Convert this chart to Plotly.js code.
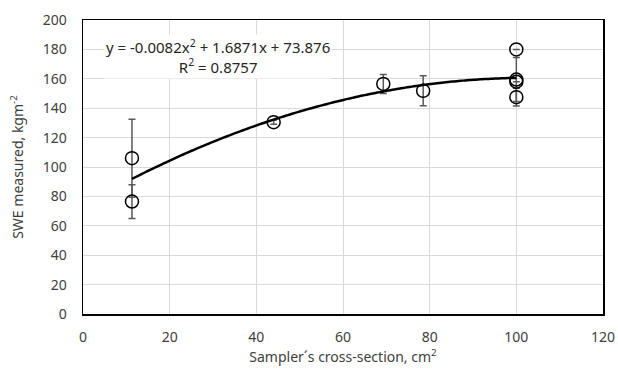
<!DOCTYPE html>
<html>
<head>
<meta charset="utf-8">
<script src="https://cdn.plot.ly/plotly-3.0.1.min.js"></script>
<style>html,body{margin:0;padding:0;background:#fff;}#chart{width:618px;height:373px;}</style>
</head>
<body>
<div id="chart"></div>
<script>
// Data
const crossSection = [11.3, 11.3, 44.0, 69.3, 78.5, 100, 100, 100, 100];
const sweMeasured  = [106, 76.5, 130.5, 156.5, 151.8, 180, 159.5, 158, 147.5];
const sweError     = [26.5, 11.5, 1.5, 6.5, 10.2, 0, 15, 0, 6];
// Excel polynomial trendline coefficients shown on the chart: y = a x^2 + b x + c
const trendCoef = [-0.0082, 1.6871, 73.876];
const trendRange = [11.3, 100];
const xTicks = [0, 20, 40, 60, 80, 100, 120];
const yTicks = [0, 20, 40, 60, 80, 100, 120, 140, 160, 180, 200];

const trendX = [], trendY = [];
for (let i = 0; i <= 90; i++) {
  const x = trendRange[0] + (trendRange[1] - trendRange[0]) * i / 90;
  trendX.push(x);
  trendY.push(trendCoef[0] * x * x + trendCoef[1] * x + trendCoef[2]);
}

const font = "Noto Sans, Liberation Sans, sans-serif";

const traces = [
  {
    x: crossSection, y: sweMeasured, type: 'scatter', mode: 'markers',
    marker: {symbol: 'circle-open', size: 13, color: '#000', line: {width: 1.5, color: '#000'}},
    error_y: {type: 'data', array: sweError, visible: true, color: '#595959', thickness: 1.5, width: 3.5},
    hoverinfo: 'skip'
  },
  {
    x: trendX, y: trendY, type: 'scatter', mode: 'lines',
    line: {color: '#000', width: 2.5, shape: 'spline'}, hoverinfo: 'skip'
  }
];

const layout = {
  width: 618, height: 373,
  margin: {l: 83, r: 15, t: 20, b: 59},
  paper_bgcolor: '#fff', plot_bgcolor: '#fff',
  showlegend: false,
  font: {family: font, size: 14, color: '#404040'},
  xaxis: {
    range: [0, 120], tickvals: xTicks, ticktext: xTicks.map(String),
    showgrid: true, gridcolor: '#d9d9d9', gridwidth: 1,
    zeroline: false, showline: true, linecolor: '#000', linewidth: 1.5, mirror: true,
    ticks: '', ticklabelstandoff: 10, tickfont: {family: font, size: 14, color: '#404040'},
    title: {text: 'Sampler´s cross-section, cm<sup>2</sup>', font: {family: font, size: 14, color: '#404040'}, standoff: 7}
  },
  yaxis: {
    range: [0, 200], tickvals: yTicks, ticktext: yTicks.map(String),
    showgrid: true, gridcolor: '#d9d9d9', gridwidth: 1,
    zeroline: false, showline: true, linecolor: '#000', linewidth: 1.5, mirror: true,
    ticks: '', ticklabelstandoff: 12, tickfont: {family: font, size: 14, color: '#404040'},
    title: {text: 'SWE measured, kgm<sup>-2</sup>', font: {family: font, size: 14, color: '#404040'}, standoff: 16}
  },
  annotations: [{
    x: 31.2, y: 175, xref: 'x', yref: 'y', xanchor: 'center', yanchor: 'middle',
    text: 'y = -0.0082x<sup>2</sup> + 1.6871x + 73.876<br>R<sup>2</sup> = 0.8757',
    showarrow: false, align: 'center', bgcolor: '#fff',
    font: {family: font, size: 15, color: '#262626'}
  }]
};

Plotly.newPlot('chart', traces, layout, {staticPlot: true, displayModeBar: false});
</script>
</body>
</html>
